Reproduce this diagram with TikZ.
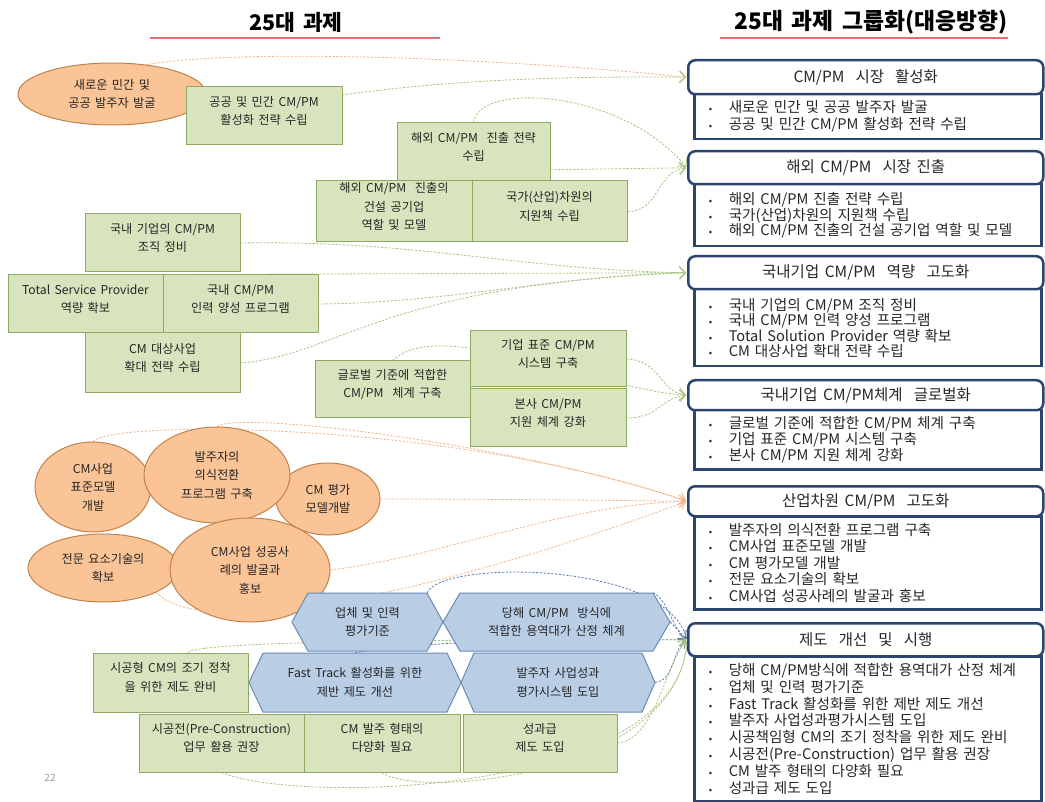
\documentclass[tikz,border=0pt]{standalone}
\usepackage{fontspec}
\setmainfont{Noto Sans CJK KR}[WordSpace=1.6]
\usetikzlibrary{arrows.meta,backgrounds,shapes.geometric,fit,calc}
\definecolor{gfill}{HTML}{D7E4BD}
\definecolor{gline}{HTML}{8FA862}
\definecolor{ofill}{HTML}{FAC497}
\definecolor{oline}{HTML}{C0824A}
\definecolor{hfill}{HTML}{B9CDE5}
\definecolor{hline}{HTML}{6A8AB8}
\definecolor{navy}{HTML}{2B4570}
\definecolor{gcon}{HTML}{A9C27C}
\definecolor{ocon}{HTML}{F3B387}
\definecolor{bcon}{HTML}{5878B0}
\definecolor{ttl}{HTML}{E07070}
\newcommand\lfont{\fontsize{12.2}{18.5}\selectfont}
\newcommand\bl{\makebox[20pt][l]{\fontsize{10}{10}\selectfont\textbullet}}
\tikzset{
 gbox/.style={draw=gline, fill=gfill, line width=1pt, inner sep=0pt, align=center, font=\lfont, text=black!85},
 ebox/.style={ellipse, draw=oline, fill=ofill, line width=1pt, inner sep=0pt, align=center, font=\lfont, text=black!85},
 hbox/.style={draw=hline, fill=hfill, line width=1pt},
 htext/.style={inner sep=0pt, align=center, font=\lfont, text=black!85},
 hdbox/.style={draw=navy, line width=2.5pt, rounded corners=7pt, fill=white, inner sep=0pt, anchor=north west, minimum width=355pt, align=center, font=\fontsize{15.5}{17}\selectfont, text=black!85},
 bdbox/.style={draw=navy, line width=2.5pt, fill=white, inner sep=0pt, anchor=north west, minimum width=347pt, text width=318pt, align=left, text=black!85},
 con/.style={dash pattern=on 2.2pt off 1.6pt, line width=0.8pt, shorten >=1pt, -{Straight Barb[length=6pt,width=12pt]}},
 gc/.style={con, draw=gcon},
 oc/.style={con, draw=ocon},
 bc/.style={con, draw=bcon},
 ttlfont/.style={font=\fontsize{21.5}{22}\selectfont\bfseries}
}
\newcommand\hexa[7]{%
  \path[hbox] (#2,{(#4+#5)/2}) -- ({#2+#6},#4) -- ({#3-#6},#4) -- (#3,{(#4+#5)/2}) -- ({#3-#6},#5) -- ({#2+#6},#5) -- cycle;
  \node[htext, minimum width={#3-#2-2*#6}, minimum height={#5-#4}] (#1) at ({(#2+#3)/2},{(#4+#5)/2}) {#7};}
\begin{document}
\begin{tikzpicture}[x=1pt,y=-1pt]
\useasboundingbox (0,0) rectangle (1045,802);

% titles
\node[ttlfont] (t1) at (296,22) {25대 과제};
\node[ttlfont, font=\fontsize{22.8}{23}\selectfont\bfseries] (t2) at (871,22) {25대 과제 그룹화(대응방향)};
\draw[ttl, line width=1.6pt] (150,38) -- (440,38);
\draw[ttl, line width=1.6pt] (720,38) -- (1008,38);

% left: group 1
\node[ebox, minimum width=188, minimum height=62] (e1) at (112,94) {새로운 민간 및\\공공 발주자 발굴};
\node[gbox, fit={(186,87) (342,145)}] (r2) {공공 및 민간 CM/PM\\활성화 전략 수립};
% group 2
\node[gbox, fit={(397,123) (550,181)}] (r3) {해외 CM/PM\ \ 진출 전략\\수립};
\node[gbox, fit={(316,181) (472,242)}] (r4) {해외 CM/PM\ \ 진출의\\건설 공기업\\역할 및 모델};
\node[gbox, fit={(472,181) (627,242)}] (r5) {국가(산업)차원의\\지원책 수립};
% group 3
\node[gbox, fit={(85,214) (240,272)}] (r6) {국내 기업의 CM/PM\\조직 정비};
\node[gbox, fit={(8,275) (163,333)}] (r7) {Total Service Provider\\역량 확보};
\node[gbox, fit={(163,275) (318,333)}] (r8) {국내 CM/PM\\인력 양성 프로그램};
\node[gbox, fit={(85,333) (240,393)}] (r9) {CM 대상사업\\확대 전략 수립};
% group 4
\node[gbox, fit={(315,361) (470,418)}] (r10) {글로벌 기준에 적합한\\CM/PM\ \ 체계 구축};
\node[gbox, fit={(470,331) (626,387)}] (r11) {기업 표준 CM/PM\\시스템 구축};
\node[gbox, fit={(470,389) (626,447)}] (r12) {본사 CM/PM\\지원 체계 강화};
% group 5
\node[ebox, minimum width=116, minimum height=90] (e13) at (93,487) {CM사업\\표준모델\\개발};
\node[ebox, minimum width=104, minimum height=72] (e15) at (328,499) {CM 평가\\모델개발};
\node[ebox, minimum width=146, minimum height=96] (e14) at (217,475) {발주자의\\의식전환\\프로그램 구축};
\node[ebox, minimum width=150, minimum height=68] (e16) at (103,568) {전문 요소기술의\\확보};
\node[ebox, minimum width=160, minimum height=104] (e17) at (250,570) {CM사업 성공사\\례의 발굴과\\홍보};
% group 6
\hexa{h18}{292}{443}{593}{651}{16}{업체 및 인력\\평가기준}
\hexa{h19}{443}{670}{593}{651}{17}{당해 CM/PM\ \ 방식에\\적합한 용역대가 산정 체계}
\hexa{h20}{249}{461}{653}{712}{14}{Fast Track 활성화를 위한\\제반 제도 개선}
\hexa{h21}{461}{655}{653}{712}{13}{발주자 사업성과\\평가시스템 도입}
\node[gbox, fit={(93,653) (248,712)}] (r22) {시공형 CM의 조기 정착\\을 위한 제도 완비};
\node[gbox, fit={(139,714) (304,772)}] (r23) {시공전(Pre-Construction)\\업무 활용 권장};
\node[gbox, fit={(304,714) (460,772)}] (r24) {CM 발주 형태의\\다양화 필요};
\node[gbox, fit={(463,714) (617,772)}] (r25) {성과급\\제도 도입};

\node[font=\fontsize{10}{10}\selectfont, text=black!40] (pg) at (50,778) {22};

% right panels
\node[bdbox, font=\fontsize{14.6}{17}\selectfont, minimum height=45] (b1) at (693,93) {\bl 새로운 민간 및 공공 발주자 발굴\\\bl 공공 및 민간 CM/PM 활성화 전략 수립};
\node[hdbox, minimum height=34] (hd1) at (687,59) {CM/PM\ \ 시장\ \ 활성화};
\node[bdbox, font=\fontsize{14.6}{15.5}\selectfont, minimum height=62] (b2) at (693,183) {\bl 해외 CM/PM 진출 전략 수립\\\bl 국가(산업)차원의 지원책 수립\\\bl 해외 CM/PM 진출의 건설 공기업 역할 및 모델};
\node[hdbox, minimum height=33] (hd2) at (687,150) {해외 CM/PM\ \ 시장 진출};
\node[bdbox, font=\fontsize{14.6}{14.5}\selectfont, minimum height=77] (b3) at (693,288) {\bl 국내 기업의 CM/PM 조직 정비\\\bl 국내 CM/PM 인력 양성 프로그램\\\bl Total Solution Provider 역량 확보\\\bl CM 대상사업 확대 전략 수립};
\node[hdbox, minimum height=33] (hd3) at (687,255) {국내기업 CM/PM\ \ 역량\ \ 고도화};
\node[bdbox, font=\fontsize{14.6}{14.5}\selectfont, minimum height=59] (b4) at (693,409) {\bl 글로벌 기준에 적합한 CM/PM 체계 구축\\\bl 기업 표준 CM/PM 시스템 구축\\\bl 본사 CM/PM 지원 체계 강화};
\node[hdbox, minimum height=30] (hd4) at (687,379) {국내기업 CM/PM체계\ \ 글로벌화};
\node[bdbox, font=\fontsize{14.6}{16.5}\selectfont, minimum height=93] (b5) at (693,515) {\bl 발주자의 의식전환 프로그램 구축\\\bl CM사업 표준모델 개발\\\bl CM 평가모델 개발\\\bl 전문 요소기술의 확보\\\bl CM사업 성공사례의 발굴과 홍보};
\node[hdbox, minimum height=30] (hd5) at (687,485) {산업차원 CM/PM\ \ 고도화};
\node[bdbox, font=\fontsize{14.6}{16.8}\selectfont, minimum height=145] (b6) at (693,655) {\bl 당해 CM/PM방식에 적합한 용역대가 산정 체계\\\bl 업체 및 인력 평가기준\\\bl Fast Track 활성화를 위한 제반 제도 개선\\\bl 발주자 사업성과평가시스템 도입\\\bl 시공책임형 CM의 조기 정착을 위한 제도 완비\\\bl 시공전(Pre-Construction) 업무 활용 권장\\\bl CM 발주 형태의 다양화 필요\\\bl 성과급 제도 도입};
\node[hdbox, minimum height=33] (hd6) at (687,622) {제도\ \ 개선\ \ 및\ \ 시행};

% connectors
\begin{pgfonlayer}{background}
\draw[oc] (e1.40) .. controls (240,48) and (500,58) .. (hd1.west);
\draw[gc] (r2.15) .. controls (450,80) and (560,76) .. (hd1.west);
\draw[gc] (r3.north) .. controls (478,82) and (620,88) .. (hd2.west);
\draw[gc] (r3.-13) -- (hd2.west);
\draw[gc] (r5.east) .. controls (660,212) and (655,172) .. (hd2.west);
\draw[gc] (r6.east) .. controls (420,240) and (520,270) .. (hd3.west);
\draw[gc] (r7.north east) -- (hd3.west);
\draw[gc] (r8.east) .. controls (450,303) and (560,275) .. (hd3.west);
\draw[gc] (r9.east) .. controls (340,355) and (380,285) .. (hd3.west);
\draw[gc] (r10.north) .. controls (440,315) and (600,390) .. (hd4.west);
\draw[gc] (r11.east) .. controls (660,360) and (660,392) .. (hd4.west);
\draw[gc] (r12.east) .. controls (660,418) and (660,398) .. (hd4.west);
\draw[oc] (e13.north) .. controls (110,420) and (450,420) .. (hd5.west);
\draw[oc] (e14.north) .. controls (240,410) and (520,445) .. (hd5.west);
\draw[oc] (e15.east) .. controls (480,499) and (580,500) .. (hd5.west);
\draw[oc] (e17.east) .. controls (450,555) and (560,505) .. (hd5.west);
\draw[oc] (e16.south east) .. controls (200,640) and (420,600) .. (hd5.west);
\draw[bc] (h18.north east) .. controls (440,560) and (665,560) .. (hd6.west);
\draw[bc] (h19.north east) .. controls (668,600) and (672,628) .. (hd6.west);
\draw[bc] ($(h19.east)+(17,0)$) -- (hd6.west);
\draw[bc] ($(h21.east)+(13,0)$) .. controls (675,680) and (672,650) .. (hd6.west);
\draw[bc] (h20.north) .. controls (460,636) and (640,640) .. (hd6.west);
\draw[gc] (r22.60) .. controls (200,638) and (600,640) .. (hd6.west);
\draw[gc] (r25.east) .. controls (655,740) and (665,665) .. (hd6.west);
\draw[gc] (r23.south) .. controls (300,805) and (680,795) .. (hd6.west);
\draw[gc] (r24.south) .. controls (420,800) and (678,775) .. (hd6.west);
\end{pgfonlayer}
\end{tikzpicture}
\end{document}
